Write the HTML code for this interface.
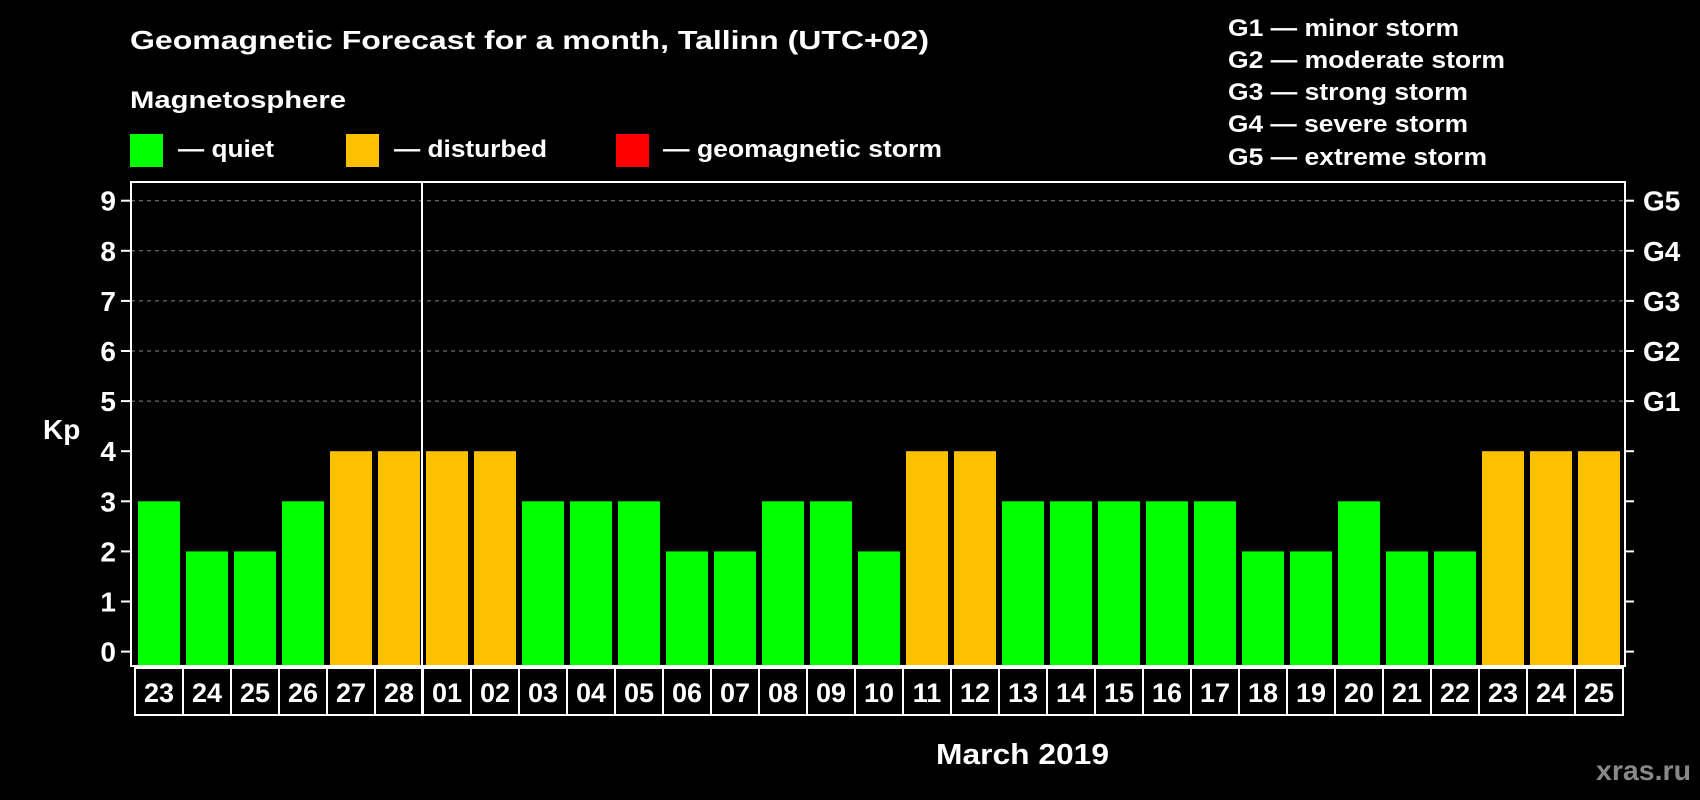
<!DOCTYPE html>
<html><head><meta charset="utf-8"><style>
html,body{margin:0;padding:0;background:#000;width:1700px;height:800px;overflow:hidden}
svg{display:block;font-family:"Liberation Sans",sans-serif;font-weight:bold}
</style></head><body>
<svg id="chart" width="1700" height="800" viewBox="0 0 1700 800">
<rect x="0" y="0" width="1700" height="800" fill="#000"/>
<text x="130" y="49" fill="#fff" font-size="26" textLength="799" lengthAdjust="spacingAndGlyphs">Geomagnetic Forecast for a month, Tallinn (UTC+02)</text>
<text x="130" y="108" fill="#fff" font-size="24" textLength="216" lengthAdjust="spacingAndGlyphs">Magnetosphere</text>
<g>
<rect x="130" y="134" width="33" height="33" fill="#00ff00"/>
<text x="178" y="157" fill="#fff" font-size="24" textLength="96" lengthAdjust="spacingAndGlyphs">— quiet</text></g>
<g>
<rect x="346" y="134" width="33" height="33" fill="#ffc000"/>
<text x="394" y="157" fill="#fff" font-size="24" textLength="153" lengthAdjust="spacingAndGlyphs">— disturbed</text></g>
<g>
<rect x="616" y="134" width="33" height="33" fill="#ff0000"/>
<text x="663" y="157" fill="#fff" font-size="24" textLength="279" lengthAdjust="spacingAndGlyphs">— geomagnetic storm</text></g>
<g fill="#fff" font-size="24">
<text x="1228" y="36" textLength="231" lengthAdjust="spacingAndGlyphs">G1 — minor storm</text>
<text x="1228" y="68" textLength="277" lengthAdjust="spacingAndGlyphs">G2 — moderate storm</text>
<text x="1228" y="100" textLength="240" lengthAdjust="spacingAndGlyphs">G3 — strong storm</text>
<text x="1228" y="132" textLength="240" lengthAdjust="spacingAndGlyphs">G4 — severe storm</text>
<text x="1228" y="165" textLength="259" lengthAdjust="spacingAndGlyphs">G5 — extreme storm</text>
</g>
<text x="43" y="439" fill="#fff" font-size="28">Kp</text>
<text x="936" y="764" fill="#fff" font-size="29" textLength="173" lengthAdjust="spacingAndGlyphs">March 2019</text>
<text x="1596" y="780" fill="#888" font-size="28" textLength="95" lengthAdjust="spacingAndGlyphs">xras.ru</text>
<g id="grid"></g><g id="bars"></g><g id="axes"></g>
</svg>
<script>
const days = ["23","24","25","26","27","28","01","02","03","04","05","06","07","08","09","10","11","12","13","14","15","16","17","18","19","20","21","22","23","24","25"];
const kpValues = [3,2,2,3,4,4,4,4,3,3,3,2,2,3,3,2,4,4,3,3,3,3,3,2,2,3,2,2,4,4,4];
const yTicks = [0,1,2,3,4,5,6,7,8,9];
const gLabels = ["G1","G2","G3","G4","G5"];
const NS="http://www.w3.org/2000/svg";
const L=131,R=1625,T=182,B=666;
function y(v){return 651.6-v*50.1;}
function x(i){return 138+i*48;}
function mk(tag,a,parent){const e=document.createElementNS(NS,tag);for(const k in a)e.setAttribute(k,a[k]);parent.appendChild(e);return e;}
const grid=document.getElementById('grid'),bars=document.getElementById('bars'),axes=document.getElementById('axes');
yTicks.forEach(v=>{
  if(v>=5){const g=mk('line',{x1:L,x2:R,y1:y(v),y2:y(v),stroke:'#888','stroke-dasharray':'4 4','stroke-width':1},grid);
  
  }
  mk('line',{x1:121,x2:L,y1:y(v),y2:y(v),stroke:'#fff','stroke-width':2},axes);
  mk('line',{x1:R,x2:1634,y1:y(v),y2:y(v),stroke:'#fff','stroke-width':2},axes);
  const t=mk('text',{x:116,y:y(v)+10,'text-anchor':'end',fill:'#fff','font-size':28},axes);
  t.textContent=v;
  
  
});
gLabels.forEach((g,i)=>{
  const t=mk('text',{x:1643,y:y(5+i)+10,fill:'#fff','font-size':28},axes);
  t.textContent=g;
  
  
});
kpValues.forEach((v,i)=>{
  const c=v>=5?'#ff0000':(v>=4?'#ffc000':'#00ff00');
  const r=mk('rect',{x:x(i),y:y(v),width:42,height:(B-1)-y(v),fill:c},bars);
  
  
});
mk('rect',{x:L,y:T,width:R-L,height:B-T,fill:'none',stroke:'#fff','stroke-width':2},axes);
mk('rect',{x:135,y:668,width:1488,height:47,fill:'none',stroke:'#fff','stroke-width':2},axes);
days.forEach((d,i)=>{
  if(i>0)mk('line',{x1:135+i*48,x2:135+i*48,y1:668,y2:715,stroke:'#fff','stroke-width':2},axes);
  const t=mk('text',{x:135+i*48+24,y:702,'text-anchor':'middle',fill:'#fff','font-size':27},axes);
  t.textContent=d;
  
  
});
const sep=mk('line',{x1:422,x2:422,y1:T,y2:715,stroke:'#fff','stroke-width':2},axes);


</script>
</body></html>
